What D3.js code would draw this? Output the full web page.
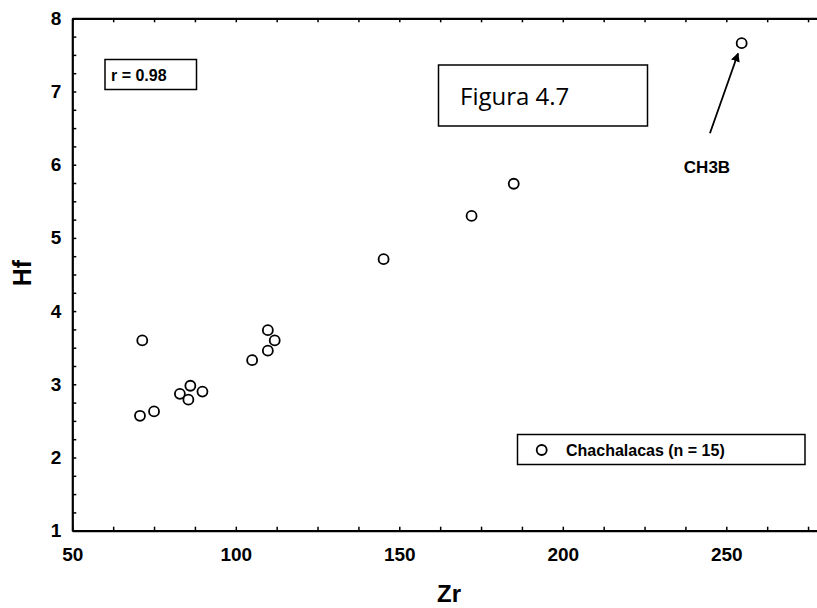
<!DOCTYPE html>
<html>
<head>
<meta charset="utf-8">
<script src="https://cdn.jsdelivr.net/npm/d3@7"></script>
<style>
body { margin: 0; background: #fff; }
text { font-family: "Liberation Sans", Arial, sans-serif; font-weight: bold; fill: #000; }
</style>
</head>
<body>
<script>
// Chachalacas samples, Zr vs Hf
var zr = [71.4, 70.7, 75.0, 82.9, 86.1, 85.5, 89.8, 105.0, 109.8, 111.9, 109.8, 145.2, 172.1, 185.0, 254.7];
var hf = [3.60, 2.57, 2.63, 2.87, 2.98, 2.79, 2.90, 3.33, 3.74, 3.60, 3.46, 4.71, 5.30, 5.74, 7.66];
var xTicks = [50, 100, 150, 200, 250];
var yTicks = [1, 2, 3, 4, 5, 6, 7, 8];
var arrowFrom = [245.0, 6.43], arrowTo = [253.6, 7.52];

var W = 817, H = 608;
var x = d3.scaleLinear().domain([50, 280]).range([72.3, 824.4]);
var y = d3.scaleLinear().domain([1, 8]).range([530.7, 18.3]);

var svg = d3.select("body").append("svg")
    .attr("width", W).attr("height", H);

svg.append("defs").append("marker")
    .attr("id", "head")
    .attr("viewBox", "0 0 10 10")
    .attr("refX", 9).attr("refY", 5)
    .attr("markerWidth", 5).attr("markerHeight", 5)
    .attr("orient", "auto")
  .append("path").attr("d", "M0,0 L10,5 L0,10 z").attr("fill", "#000");

var minorX = d3.range(50, 281, 12.5);
var minorY = d3.range(1, 8.01, 0.25);

function styleAxis(g) {
  g.select(".domain").attr("stroke", "#000").attr("stroke-width", 2.2);
  g.selectAll(".tick line").attr("stroke", "#000").attr("stroke-width", 1.5);
  g.selectAll("text").attr("font-size", 19).attr("font-family", null);
}

svg.append("g")
    .attr("transform", "translate(0," + y(1) + ")")
    .call(d3.axisBottom(x).tickValues(minorX).tickSizeInner(-4).tickSizeOuter(0).tickPadding(17)
      .tickFormat(function(d) { return xTicks.indexOf(d) >= 0 ? d : ""; }))
    .call(styleAxis);

svg.append("g")
    .attr("transform", "translate(0," + y(8) + ")")
    .call(d3.axisTop(x).tickValues(minorX).tickSizeInner(-4).tickSizeOuter(0).tickFormat(""))
    .call(styleAxis);

svg.append("g")
    .attr("transform", "translate(" + x(50) + ",0)")
    .call(d3.axisLeft(y).tickValues(minorY).tickSizeInner(-4).tickSizeOuter(0).tickPadding(11)
      .tickFormat(function(d) { return yTicks.indexOf(d) >= 0 ? d : ""; }))
    .call(styleAxis);

// axis titles
svg.append("text")
    .attr("x", 449).attr("y", 602)
    .attr("text-anchor", "middle").attr("font-size", 24)
    .text("Zr");
svg.append("text")
    .attr("transform", "translate(30.5,273) rotate(-90)")
    .attr("text-anchor", "middle").attr("font-size", 25)
    .text("Hf");

// points
svg.append("g").selectAll("circle")
    .data(zr)
  .enter().append("circle")
    .attr("cx", function(d) { return x(d); })
    .attr("cy", function(d, i) { return y(hf[i]); })
    .attr("r", 5)
    .attr("fill", "#fff")
    .attr("stroke", "#000")
    .attr("stroke-width", 1.8);

// r box
svg.append("rect")
    .attr("x", 105).attr("y", 59.5).attr("width", 91.5).attr("height", 30)
    .attr("fill", "#fff").attr("stroke", "#000").attr("stroke-width", 1.5);
svg.append("text")
    .attr("x", 111).attr("y", 80.5).attr("font-size", 16)
    .text("r = 0.98");

// figure label box
svg.append("rect")
    .attr("x", 438.5).attr("y", 65).attr("width", 209).attr("height", 61)
    .attr("fill", "#fff").attr("stroke", "#000").attr("stroke-width", 1.5);
svg.append("text")
    .attr("x", 460).attr("y", 105)
    .style("font-family", "'Open Sans', sans-serif").style("font-weight", "normal")
    .attr("font-size", 24)
    .text("Figura 4.7");

// CH3B annotation
svg.append("line")
    .attr("x1", x(arrowFrom[0])).attr("y1", y(arrowFrom[1]))
    .attr("x2", x(arrowTo[0])).attr("y2", y(arrowTo[1]))
    .attr("stroke", "#000").attr("stroke-width", 1.8)
    .attr("marker-end", "url(#head)");
svg.append("text")
    .attr("x", 707).attr("y", 173).attr("text-anchor", "middle").attr("font-size", 17)
    .text("CH3B");

// legend
svg.append("rect")
    .attr("x", 517.5).attr("y", 434.5).attr("width", 287.5).attr("height", 30)
    .attr("fill", "#fff").attr("stroke", "#000").attr("stroke-width", 1.5);
svg.append("circle")
    .attr("cx", 541.7).attr("cy", 450).attr("r", 5)
    .attr("fill", "#fff").attr("stroke", "#000").attr("stroke-width", 1.8);
svg.append("text")
    .attr("x", 566).attr("y", 456).attr("font-size", 16)
    .text("Chachalacas (n = 15)");
</script>
</body>
</html>
